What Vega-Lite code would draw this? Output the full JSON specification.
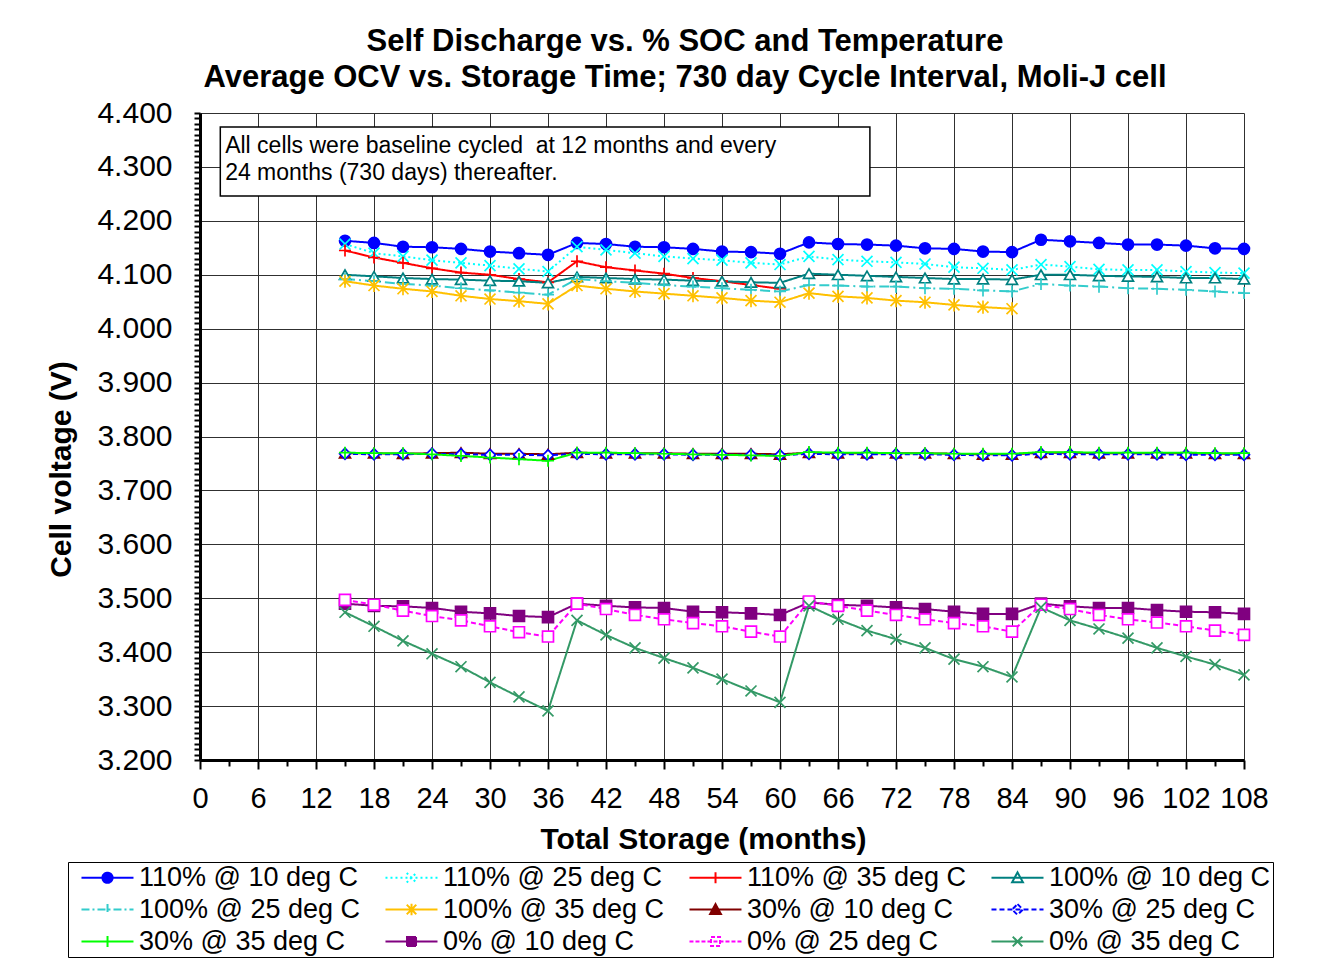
{
"$schema": "https://vega.github.io/schema/vega-lite/v6.json",
"width": 1044, "height": 647,
"autosize": {"type": "none"},
"padding": {"left": 200, "top": 113, "right": 77, "bottom": 204},
"background": "white",
"config": {"font": "Liberation Sans", "view": {"stroke": null}},
"title": {"text": ["Self Discharge vs. % SOC and Temperature", "Average OCV vs. Storage Time; 730 day Cycle Interval, Moli-J cell"], "fontSize": 31, "fontWeight": "bold", "font": "Liberation Sans", "color": "black", "anchor": "middle", "dx": -37, "dy": 49, "lineHeight": 36, "offset": 22, "baseline": "bottom"},
"data": {"values": [
{"s":"110% @ 10 deg C","m":15,"v":4.163},{"s":"110% @ 10 deg C","m":18,"v":4.159},{"s":"110% @ 10 deg C","m":21,"v":4.152},{"s":"110% @ 10 deg C","m":24,"v":4.151},{"s":"110% @ 10 deg C","m":27,"v":4.148},{"s":"110% @ 10 deg C","m":30,"v":4.143},{"s":"110% @ 10 deg C","m":33,"v":4.140},{"s":"110% @ 10 deg C","m":36,"v":4.137},{"s":"110% @ 10 deg C","m":39,"v":4.159},{"s":"110% @ 10 deg C","m":42,"v":4.157},{"s":"110% @ 10 deg C","m":45,"v":4.152},{"s":"110% @ 10 deg C","m":48,"v":4.151},{"s":"110% @ 10 deg C","m":51,"v":4.148},{"s":"110% @ 10 deg C","m":54,"v":4.143},{"s":"110% @ 10 deg C","m":57,"v":4.142},{"s":"110% @ 10 deg C","m":60,"v":4.139},{"s":"110% @ 10 deg C","m":63,"v":4.160},{"s":"110% @ 10 deg C","m":66,"v":4.157},{"s":"110% @ 10 deg C","m":69,"v":4.156},{"s":"110% @ 10 deg C","m":72,"v":4.154},{"s":"110% @ 10 deg C","m":75,"v":4.149},{"s":"110% @ 10 deg C","m":78,"v":4.148},{"s":"110% @ 10 deg C","m":81,"v":4.143},{"s":"110% @ 10 deg C","m":84,"v":4.142},{"s":"110% @ 10 deg C","m":87,"v":4.165},{"s":"110% @ 10 deg C","m":90,"v":4.162},{"s":"110% @ 10 deg C","m":93,"v":4.159},{"s":"110% @ 10 deg C","m":96,"v":4.156},{"s":"110% @ 10 deg C","m":99,"v":4.156},{"s":"110% @ 10 deg C","m":102,"v":4.154},{"s":"110% @ 10 deg C","m":105,"v":4.149},{"s":"110% @ 10 deg C","m":108,"v":4.148},
{"s":"110% @ 25 deg C","m":15,"v":4.157},{"s":"110% @ 25 deg C","m":18,"v":4.140},{"s":"110% @ 25 deg C","m":21,"v":4.134},{"s":"110% @ 25 deg C","m":24,"v":4.127},{"s":"110% @ 25 deg C","m":27,"v":4.122},{"s":"110% @ 25 deg C","m":30,"v":4.117},{"s":"110% @ 25 deg C","m":33,"v":4.111},{"s":"110% @ 25 deg C","m":36,"v":4.106},{"s":"110% @ 25 deg C","m":39,"v":4.152},{"s":"110% @ 25 deg C","m":42,"v":4.146},{"s":"110% @ 25 deg C","m":45,"v":4.140},{"s":"110% @ 25 deg C","m":48,"v":4.134},{"s":"110% @ 25 deg C","m":51,"v":4.130},{"s":"110% @ 25 deg C","m":54,"v":4.127},{"s":"110% @ 25 deg C","m":57,"v":4.122},{"s":"110% @ 25 deg C","m":60,"v":4.119},{"s":"110% @ 25 deg C","m":63,"v":4.134},{"s":"110% @ 25 deg C","m":66,"v":4.128},{"s":"110% @ 25 deg C","m":69,"v":4.125},{"s":"110% @ 25 deg C","m":72,"v":4.123},{"s":"110% @ 25 deg C","m":75,"v":4.120},{"s":"110% @ 25 deg C","m":78,"v":4.114},{"s":"110% @ 25 deg C","m":81,"v":4.112},{"s":"110% @ 25 deg C","m":84,"v":4.109},{"s":"110% @ 25 deg C","m":87,"v":4.119},{"s":"110% @ 25 deg C","m":90,"v":4.115},{"s":"110% @ 25 deg C","m":93,"v":4.110},{"s":"110% @ 25 deg C","m":96,"v":4.109},{"s":"110% @ 25 deg C","m":99,"v":4.109},{"s":"110% @ 25 deg C","m":102,"v":4.106},{"s":"110% @ 25 deg C","m":105,"v":4.104},{"s":"110% @ 25 deg C","m":108,"v":4.103},
{"s":"110% @ 35 deg C","m":15,"v":4.145},{"s":"110% @ 35 deg C","m":18,"v":4.132},{"s":"110% @ 35 deg C","m":21,"v":4.122},{"s":"110% @ 35 deg C","m":24,"v":4.112},{"s":"110% @ 35 deg C","m":27,"v":4.104},{"s":"110% @ 35 deg C","m":30,"v":4.100},{"s":"110% @ 35 deg C","m":33,"v":4.092},{"s":"110% @ 35 deg C","m":36,"v":4.086},{"s":"110% @ 35 deg C","m":39,"v":4.125},{"s":"110% @ 35 deg C","m":42,"v":4.114},{"s":"110% @ 35 deg C","m":45,"v":4.108},{"s":"110% @ 35 deg C","m":48,"v":4.102},{"s":"110% @ 35 deg C","m":51,"v":4.094},{"s":"110% @ 35 deg C","m":54,"v":4.088},{"s":"110% @ 35 deg C","m":57,"v":4.081},{"s":"110% @ 35 deg C","m":60,"v":4.074},
{"s":"100% @ 10 deg C","m":15,"v":4.100},{"s":"100% @ 10 deg C","m":18,"v":4.097},{"s":"100% @ 10 deg C","m":21,"v":4.094},{"s":"100% @ 10 deg C","m":24,"v":4.092},{"s":"100% @ 10 deg C","m":27,"v":4.091},{"s":"100% @ 10 deg C","m":30,"v":4.089},{"s":"100% @ 10 deg C","m":33,"v":4.088},{"s":"100% @ 10 deg C","m":36,"v":4.085},{"s":"100% @ 10 deg C","m":39,"v":4.096},{"s":"100% @ 10 deg C","m":42,"v":4.094},{"s":"100% @ 10 deg C","m":45,"v":4.092},{"s":"100% @ 10 deg C","m":48,"v":4.091},{"s":"100% @ 10 deg C","m":51,"v":4.089},{"s":"100% @ 10 deg C","m":54,"v":4.088},{"s":"100% @ 10 deg C","m":57,"v":4.086},{"s":"100% @ 10 deg C","m":60,"v":4.085},{"s":"100% @ 10 deg C","m":63,"v":4.102},{"s":"100% @ 10 deg C","m":66,"v":4.100},{"s":"100% @ 10 deg C","m":69,"v":4.098},{"s":"100% @ 10 deg C","m":72,"v":4.096},{"s":"100% @ 10 deg C","m":75,"v":4.094},{"s":"100% @ 10 deg C","m":78,"v":4.092},{"s":"100% @ 10 deg C","m":81,"v":4.092},{"s":"100% @ 10 deg C","m":84,"v":4.091},{"s":"100% @ 10 deg C","m":87,"v":4.100},{"s":"100% @ 10 deg C","m":90,"v":4.100},{"s":"100% @ 10 deg C","m":93,"v":4.098},{"s":"100% @ 10 deg C","m":96,"v":4.097},{"s":"100% @ 10 deg C","m":99,"v":4.096},{"s":"100% @ 10 deg C","m":102,"v":4.094},{"s":"100% @ 10 deg C","m":105,"v":4.094},{"s":"100% @ 10 deg C","m":108,"v":4.092},
{"s":"100% @ 25 deg C","m":15,"v":4.092},{"s":"100% @ 25 deg C","m":18,"v":4.088},{"s":"100% @ 25 deg C","m":21,"v":4.083},{"s":"100% @ 25 deg C","m":24,"v":4.080},{"s":"100% @ 25 deg C","m":27,"v":4.075},{"s":"100% @ 25 deg C","m":30,"v":4.071},{"s":"100% @ 25 deg C","m":33,"v":4.067},{"s":"100% @ 25 deg C","m":36,"v":4.063},{"s":"100% @ 25 deg C","m":39,"v":4.092},{"s":"100% @ 25 deg C","m":42,"v":4.088},{"s":"100% @ 25 deg C","m":45,"v":4.085},{"s":"100% @ 25 deg C","m":48,"v":4.081},{"s":"100% @ 25 deg C","m":51,"v":4.078},{"s":"100% @ 25 deg C","m":54,"v":4.075},{"s":"100% @ 25 deg C","m":57,"v":4.072},{"s":"100% @ 25 deg C","m":60,"v":4.069},{"s":"100% @ 25 deg C","m":63,"v":4.081},{"s":"100% @ 25 deg C","m":66,"v":4.080},{"s":"100% @ 25 deg C","m":69,"v":4.078},{"s":"100% @ 25 deg C","m":72,"v":4.078},{"s":"100% @ 25 deg C","m":75,"v":4.075},{"s":"100% @ 25 deg C","m":78,"v":4.074},{"s":"100% @ 25 deg C","m":81,"v":4.071},{"s":"100% @ 25 deg C","m":84,"v":4.069},{"s":"100% @ 25 deg C","m":87,"v":4.083},{"s":"100% @ 25 deg C","m":90,"v":4.080},{"s":"100% @ 25 deg C","m":93,"v":4.078},{"s":"100% @ 25 deg C","m":96,"v":4.075},{"s":"100% @ 25 deg C","m":99,"v":4.074},{"s":"100% @ 25 deg C","m":102,"v":4.072},{"s":"100% @ 25 deg C","m":105,"v":4.069},{"s":"100% @ 25 deg C","m":108,"v":4.066},
{"s":"100% @ 35 deg C","m":15,"v":4.088},{"s":"100% @ 35 deg C","m":18,"v":4.080},{"s":"100% @ 35 deg C","m":21,"v":4.074},{"s":"100% @ 35 deg C","m":24,"v":4.069},{"s":"100% @ 35 deg C","m":27,"v":4.061},{"s":"100% @ 35 deg C","m":30,"v":4.055},{"s":"100% @ 35 deg C","m":33,"v":4.051},{"s":"100% @ 35 deg C","m":36,"v":4.046},{"s":"100% @ 35 deg C","m":39,"v":4.080},{"s":"100% @ 35 deg C","m":42,"v":4.074},{"s":"100% @ 35 deg C","m":45,"v":4.069},{"s":"100% @ 35 deg C","m":48,"v":4.065},{"s":"100% @ 35 deg C","m":51,"v":4.061},{"s":"100% @ 35 deg C","m":54,"v":4.057},{"s":"100% @ 35 deg C","m":57,"v":4.052},{"s":"100% @ 35 deg C","m":60,"v":4.049},{"s":"100% @ 35 deg C","m":63,"v":4.066},{"s":"100% @ 35 deg C","m":66,"v":4.060},{"s":"100% @ 35 deg C","m":69,"v":4.057},{"s":"100% @ 35 deg C","m":72,"v":4.052},{"s":"100% @ 35 deg C","m":75,"v":4.049},{"s":"100% @ 35 deg C","m":78,"v":4.044},{"s":"100% @ 35 deg C","m":81,"v":4.040},{"s":"100% @ 35 deg C","m":84,"v":4.037},
{"s":"30% @ 10 deg C","m":15,"v":3.769},{"s":"30% @ 10 deg C","m":18,"v":3.769},{"s":"30% @ 10 deg C","m":21,"v":3.768},{"s":"30% @ 10 deg C","m":24,"v":3.769},{"s":"30% @ 10 deg C","m":27,"v":3.770},{"s":"30% @ 10 deg C","m":30,"v":3.768},{"s":"30% @ 10 deg C","m":33,"v":3.768},{"s":"30% @ 10 deg C","m":36,"v":3.767},{"s":"30% @ 10 deg C","m":39,"v":3.770},{"s":"30% @ 10 deg C","m":42,"v":3.769},{"s":"30% @ 10 deg C","m":45,"v":3.769},{"s":"30% @ 10 deg C","m":48,"v":3.769},{"s":"30% @ 10 deg C","m":51,"v":3.768},{"s":"30% @ 10 deg C","m":54,"v":3.768},{"s":"30% @ 10 deg C","m":57,"v":3.768},{"s":"30% @ 10 deg C","m":60,"v":3.767},{"s":"30% @ 10 deg C","m":63,"v":3.770},{"s":"30% @ 10 deg C","m":66,"v":3.769},{"s":"30% @ 10 deg C","m":69,"v":3.769},{"s":"30% @ 10 deg C","m":72,"v":3.769},{"s":"30% @ 10 deg C","m":75,"v":3.769},{"s":"30% @ 10 deg C","m":78,"v":3.768},{"s":"30% @ 10 deg C","m":81,"v":3.767},{"s":"30% @ 10 deg C","m":84,"v":3.767},{"s":"30% @ 10 deg C","m":87,"v":3.770},{"s":"30% @ 10 deg C","m":90,"v":3.770},{"s":"30% @ 10 deg C","m":93,"v":3.769},{"s":"30% @ 10 deg C","m":96,"v":3.769},{"s":"30% @ 10 deg C","m":99,"v":3.769},{"s":"30% @ 10 deg C","m":102,"v":3.769},{"s":"30% @ 10 deg C","m":105,"v":3.768},{"s":"30% @ 10 deg C","m":108,"v":3.768},
{"s":"30% @ 25 deg C","m":15,"v":3.768},{"s":"30% @ 25 deg C","m":18,"v":3.767},{"s":"30% @ 25 deg C","m":21,"v":3.767},{"s":"30% @ 25 deg C","m":24,"v":3.768},{"s":"30% @ 25 deg C","m":27,"v":3.767},{"s":"30% @ 25 deg C","m":30,"v":3.766},{"s":"30% @ 25 deg C","m":33,"v":3.766},{"s":"30% @ 25 deg C","m":36,"v":3.765},{"s":"30% @ 25 deg C","m":39,"v":3.768},{"s":"30% @ 25 deg C","m":42,"v":3.767},{"s":"30% @ 25 deg C","m":45,"v":3.767},{"s":"30% @ 25 deg C","m":48,"v":3.767},{"s":"30% @ 25 deg C","m":51,"v":3.766},{"s":"30% @ 25 deg C","m":54,"v":3.766},{"s":"30% @ 25 deg C","m":57,"v":3.766},{"s":"30% @ 25 deg C","m":60,"v":3.765},{"s":"30% @ 25 deg C","m":63,"v":3.768},{"s":"30% @ 25 deg C","m":66,"v":3.767},{"s":"30% @ 25 deg C","m":69,"v":3.767},{"s":"30% @ 25 deg C","m":72,"v":3.767},{"s":"30% @ 25 deg C","m":75,"v":3.767},{"s":"30% @ 25 deg C","m":78,"v":3.766},{"s":"30% @ 25 deg C","m":81,"v":3.765},{"s":"30% @ 25 deg C","m":84,"v":3.765},{"s":"30% @ 25 deg C","m":87,"v":3.768},{"s":"30% @ 25 deg C","m":90,"v":3.767},{"s":"30% @ 25 deg C","m":93,"v":3.767},{"s":"30% @ 25 deg C","m":96,"v":3.767},{"s":"30% @ 25 deg C","m":99,"v":3.767},{"s":"30% @ 25 deg C","m":102,"v":3.766},{"s":"30% @ 25 deg C","m":105,"v":3.766},{"s":"30% @ 25 deg C","m":108,"v":3.766},
{"s":"30% @ 35 deg C","m":15,"v":3.770},{"s":"30% @ 35 deg C","m":18,"v":3.769},{"s":"30% @ 35 deg C","m":21,"v":3.769},{"s":"30% @ 35 deg C","m":24,"v":3.767},{"s":"30% @ 35 deg C","m":27,"v":3.764},{"s":"30% @ 35 deg C","m":30,"v":3.761},{"s":"30% @ 35 deg C","m":33,"v":3.758},{"s":"30% @ 35 deg C","m":36,"v":3.755},{"s":"30% @ 35 deg C","m":39,"v":3.770},{"s":"30% @ 35 deg C","m":42,"v":3.770},{"s":"30% @ 35 deg C","m":45,"v":3.769},{"s":"30% @ 35 deg C","m":48,"v":3.768},{"s":"30% @ 35 deg C","m":51,"v":3.767},{"s":"30% @ 35 deg C","m":54,"v":3.766},{"s":"30% @ 35 deg C","m":57,"v":3.765},{"s":"30% @ 35 deg C","m":60,"v":3.764},{"s":"30% @ 35 deg C","m":63,"v":3.771},{"s":"30% @ 35 deg C","m":66,"v":3.770},{"s":"30% @ 35 deg C","m":69,"v":3.770},{"s":"30% @ 35 deg C","m":72,"v":3.769},{"s":"30% @ 35 deg C","m":75,"v":3.769},{"s":"30% @ 35 deg C","m":78,"v":3.768},{"s":"30% @ 35 deg C","m":81,"v":3.768},{"s":"30% @ 35 deg C","m":84,"v":3.768},{"s":"30% @ 35 deg C","m":87,"v":3.771},{"s":"30% @ 35 deg C","m":90,"v":3.771},{"s":"30% @ 35 deg C","m":93,"v":3.770},{"s":"30% @ 35 deg C","m":96,"v":3.770},{"s":"30% @ 35 deg C","m":99,"v":3.770},{"s":"30% @ 35 deg C","m":102,"v":3.770},{"s":"30% @ 35 deg C","m":105,"v":3.769},{"s":"30% @ 35 deg C","m":108,"v":3.769},
{"s":"0% @ 10 deg C","m":15,"v":3.490},{"s":"0% @ 10 deg C","m":18,"v":3.486},{"s":"0% @ 10 deg C","m":21,"v":3.485},{"s":"0% @ 10 deg C","m":24,"v":3.482},{"s":"0% @ 10 deg C","m":27,"v":3.475},{"s":"0% @ 10 deg C","m":30,"v":3.472},{"s":"0% @ 10 deg C","m":33,"v":3.467},{"s":"0% @ 10 deg C","m":36,"v":3.465},{"s":"0% @ 10 deg C","m":39,"v":3.490},{"s":"0% @ 10 deg C","m":42,"v":3.486},{"s":"0% @ 10 deg C","m":45,"v":3.483},{"s":"0% @ 10 deg C","m":48,"v":3.482},{"s":"0% @ 10 deg C","m":51,"v":3.475},{"s":"0% @ 10 deg C","m":54,"v":3.474},{"s":"0% @ 10 deg C","m":57,"v":3.472},{"s":"0% @ 10 deg C","m":60,"v":3.469},{"s":"0% @ 10 deg C","m":63,"v":3.492},{"s":"0% @ 10 deg C","m":66,"v":3.488},{"s":"0% @ 10 deg C","m":69,"v":3.486},{"s":"0% @ 10 deg C","m":72,"v":3.483},{"s":"0% @ 10 deg C","m":75,"v":3.480},{"s":"0% @ 10 deg C","m":78,"v":3.475},{"s":"0% @ 10 deg C","m":81,"v":3.471},{"s":"0% @ 10 deg C","m":84,"v":3.471},{"s":"0% @ 10 deg C","m":87,"v":3.490},{"s":"0% @ 10 deg C","m":90,"v":3.485},{"s":"0% @ 10 deg C","m":93,"v":3.482},{"s":"0% @ 10 deg C","m":96,"v":3.482},{"s":"0% @ 10 deg C","m":99,"v":3.478},{"s":"0% @ 10 deg C","m":102,"v":3.475},{"s":"0% @ 10 deg C","m":105,"v":3.474},{"s":"0% @ 10 deg C","m":108,"v":3.471},
{"s":"0% @ 25 deg C","m":15,"v":3.497},{"s":"0% @ 25 deg C","m":18,"v":3.488},{"s":"0% @ 25 deg C","m":21,"v":3.477},{"s":"0% @ 25 deg C","m":24,"v":3.467},{"s":"0% @ 25 deg C","m":27,"v":3.459},{"s":"0% @ 25 deg C","m":30,"v":3.448},{"s":"0% @ 25 deg C","m":33,"v":3.437},{"s":"0% @ 25 deg C","m":36,"v":3.429},{"s":"0% @ 25 deg C","m":39,"v":3.490},{"s":"0% @ 25 deg C","m":42,"v":3.480},{"s":"0% @ 25 deg C","m":45,"v":3.469},{"s":"0% @ 25 deg C","m":48,"v":3.461},{"s":"0% @ 25 deg C","m":51,"v":3.454},{"s":"0% @ 25 deg C","m":54,"v":3.448},{"s":"0% @ 25 deg C","m":57,"v":3.438},{"s":"0% @ 25 deg C","m":60,"v":3.429},{"s":"0% @ 25 deg C","m":63,"v":3.494},{"s":"0% @ 25 deg C","m":66,"v":3.486},{"s":"0% @ 25 deg C","m":69,"v":3.477},{"s":"0% @ 25 deg C","m":72,"v":3.469},{"s":"0% @ 25 deg C","m":75,"v":3.461},{"s":"0% @ 25 deg C","m":78,"v":3.454},{"s":"0% @ 25 deg C","m":81,"v":3.448},{"s":"0% @ 25 deg C","m":84,"v":3.438},{"s":"0% @ 25 deg C","m":87,"v":3.488},{"s":"0% @ 25 deg C","m":90,"v":3.480},{"s":"0% @ 25 deg C","m":93,"v":3.469},{"s":"0% @ 25 deg C","m":96,"v":3.461},{"s":"0% @ 25 deg C","m":99,"v":3.455},{"s":"0% @ 25 deg C","m":102,"v":3.448},{"s":"0% @ 25 deg C","m":105,"v":3.440},{"s":"0% @ 25 deg C","m":108,"v":3.432},
{"s":"0% @ 35 deg C","m":15,"v":3.474},{"s":"0% @ 35 deg C","m":18,"v":3.448},{"s":"0% @ 35 deg C","m":21,"v":3.421},{"s":"0% @ 35 deg C","m":24,"v":3.397},{"s":"0% @ 35 deg C","m":27,"v":3.373},{"s":"0% @ 35 deg C","m":30,"v":3.344},{"s":"0% @ 35 deg C","m":33,"v":3.317},{"s":"0% @ 35 deg C","m":36,"v":3.291},{"s":"0% @ 35 deg C","m":39,"v":3.459},{"s":"0% @ 35 deg C","m":42,"v":3.432},{"s":"0% @ 35 deg C","m":45,"v":3.408},{"s":"0% @ 35 deg C","m":48,"v":3.389},{"s":"0% @ 35 deg C","m":51,"v":3.371},{"s":"0% @ 35 deg C","m":54,"v":3.350},{"s":"0% @ 35 deg C","m":57,"v":3.328},{"s":"0% @ 35 deg C","m":60,"v":3.307},{"s":"0% @ 35 deg C","m":63,"v":3.486},{"s":"0% @ 35 deg C","m":66,"v":3.461},{"s":"0% @ 35 deg C","m":69,"v":3.440},{"s":"0% @ 35 deg C","m":72,"v":3.424},{"s":"0% @ 35 deg C","m":75,"v":3.408},{"s":"0% @ 35 deg C","m":78,"v":3.387},{"s":"0% @ 35 deg C","m":81,"v":3.373},{"s":"0% @ 35 deg C","m":84,"v":3.354},{"s":"0% @ 35 deg C","m":87,"v":3.483},{"s":"0% @ 35 deg C","m":90,"v":3.459},{"s":"0% @ 35 deg C","m":93,"v":3.443},{"s":"0% @ 35 deg C","m":96,"v":3.426},{"s":"0% @ 35 deg C","m":99,"v":3.408},{"s":"0% @ 35 deg C","m":102,"v":3.392},{"s":"0% @ 35 deg C","m":105,"v":3.377},{"s":"0% @ 35 deg C","m":108,"v":3.358}
]},
"layer": [
{
"mark": {"type": "line", "strokeWidth": 2},
"encoding": {
"x": {"field": "m", "type": "quantitative", "scale": {"domain": [0, 108], "nice": false, "zero": false},
 "axis": {"title": "Total Storage (months)", "tickCount": 500, "format": "d", "values": [0,3,6,9,12,15,18,21,24,27,30,33,36,39,42,45,48,51,54,57,60,63,66,69,72,75,78,81,84,87,90,93,96,99,102,105,108],
 "labelExpr": "datum.value % 6 == 0 ? datum.label : ''", "labelOverlap": false, "labelFlush": false,
 "grid": true, "gridColor": "#303030", "gridWidth": 1, "gridOpacity": {"condition": {"test": "datum.value % 6 == 0", "value": 1}, "value": 0},
 "tickSize": {"condition": {"test": "datum.value % 6 == 0", "value": 9}, "value": 6}, "tickColor": "black", "tickWidth": 2,
 "domainColor": "black", "domainWidth": 3,
 "labelFont": "Liberation Sans", "labelFontSize": 29, "labelColor": "black", "labelPadding": 15,
 "titleFont": "Liberation Sans", "titleFontSize": 30, "titleFontWeight": "bold", "titleColor": "black", "titleX": 503, "titleY": 88, "titleBaseline": "alphabetic", "titleAlign": "center"}},
"y": {"field": "v", "type": "quantitative", "scale": {"domain": [3.2, 4.4], "nice": false, "zero": false},
 "axis": {"title": "Cell voltage (V)", "tickCount": 500, "values": [3.2,3.21,3.22,3.23,3.24,3.25,3.26,3.27,3.28,3.29,3.3,3.31,3.32,3.33,3.34,3.35,3.36,3.37,3.38,3.39,3.4,3.41,3.42,3.43,3.44,3.45,3.46,3.47,3.48,3.49,3.5,3.51,3.52,3.53,3.54,3.55,3.56,3.57,3.58,3.59,3.6,3.61,3.62,3.63,3.64,3.65,3.66,3.67,3.68,3.69,3.7,3.71,3.72,3.73,3.74,3.75,3.76,3.77,3.78,3.79,3.8,3.81,3.82,3.83,3.84,3.85,3.86,3.87,3.88,3.89,3.9,3.91,3.92,3.93,3.94,3.95,3.96,3.97,3.98,3.99,4.0,4.01,4.02,4.03,4.04,4.05,4.06,4.07,4.08,4.09,4.1,4.11,4.12,4.13,4.14,4.15,4.16,4.17,4.18,4.19,4.2,4.21,4.22,4.23,4.24,4.25,4.26,4.27,4.28,4.29,4.3,4.31,4.32,4.33,4.34,4.35,4.36,4.37,4.38,4.39,4.4],
 "format": ".3f", "labelExpr": "slice(datum.label, -2) == '00' ? datum.label : ''", "labelOverlap": false, "labelFlush": false,
 "grid": true, "gridColor": "#303030", "gridWidth": 1, "gridOpacity": {"condition": {"test": "slice(format(datum.value, '.3f'), -2) == '00'", "value": 1}, "value": 0},
 "tickSize": 6, "tickColor": "black", "tickWidth": 2, "domainColor": "black", "domainWidth": 3,
 "labelFont": "Liberation Sans", "labelFontSize": 30, "labelColor": "black", "labelPadding": 22,
 "titleFont": "Liberation Sans", "titleFontSize": 30, "titleFontWeight": "bold", "titleColor": "black", "titleX": -130, "titleY": 356, "titleBaseline": "alphabetic", "titleAlign": "center", "titleAngle": -90}},
"stroke": {"field": "s", "type": "nominal", "legend": null, "scale": {"domain": ["110% @ 10 deg C","110% @ 25 deg C","110% @ 35 deg C","100% @ 10 deg C","100% @ 25 deg C","100% @ 35 deg C","30% @ 10 deg C","30% @ 25 deg C","30% @ 35 deg C","0% @ 10 deg C","0% @ 25 deg C","0% @ 35 deg C"], "range": ["#0000FF","#00FFFF","#FF0000","#008080","#33CCCC","#FFC000","#800000","#0000FF","#00FF00","#800080","#FF00FF","#339966"]}},
"strokeDash": {"field": "s", "type": "nominal", "legend": null, "scale": {"domain": ["110% @ 10 deg C","110% @ 25 deg C","110% @ 35 deg C","100% @ 10 deg C","100% @ 25 deg C","100% @ 35 deg C","30% @ 10 deg C","30% @ 25 deg C","30% @ 35 deg C","0% @ 10 deg C","0% @ 25 deg C","0% @ 35 deg C"], "range": [[1,0],[2,3],[1,0],[1,0],[10,4,2,4],[1,0],[1,0],[5,3],[1,0],[1,0],[5,3],[1,0]]}}
}
},
{
"mark": {"type": "point", "size": 120, "strokeWidth": 1.7, "opacity": 1},
"encoding": {
"x": {"field": "m", "type": "quantitative"},
"y": {"field": "v", "type": "quantitative"},
"stroke": {"field": "s", "type": "nominal", "legend": null, "scale": {"domain": ["110% @ 10 deg C","110% @ 25 deg C","110% @ 35 deg C","100% @ 10 deg C","100% @ 25 deg C","100% @ 35 deg C","30% @ 10 deg C","30% @ 25 deg C","30% @ 35 deg C","0% @ 10 deg C","0% @ 25 deg C","0% @ 35 deg C"], "range": ["#0000FF","#00FFFF","#FF0000","#008080","#33CCCC","#FFC000","#800000","#0000FF","#00FF00","#800080","#FF00FF","#339966"]}},
"fill": {"field": "s", "type": "nominal", "legend": null, "scale": {"domain": ["110% @ 10 deg C","110% @ 25 deg C","110% @ 35 deg C","100% @ 10 deg C","100% @ 25 deg C","100% @ 35 deg C","30% @ 10 deg C","30% @ 25 deg C","30% @ 35 deg C","0% @ 10 deg C","0% @ 25 deg C","0% @ 35 deg C"], "range": ["#0000FF","transparent","transparent","white","transparent","transparent","#800000","white","transparent","#800080","white","transparent"]}},
"shape": {"field": "s", "type": "nominal", "legend": null, "scale": {"domain": ["110% @ 10 deg C","110% @ 25 deg C","110% @ 35 deg C","100% @ 10 deg C","100% @ 25 deg C","100% @ 35 deg C","30% @ 10 deg C","30% @ 25 deg C","30% @ 35 deg C","0% @ 10 deg C","0% @ 25 deg C","0% @ 35 deg C"], "range": ["circle","M-1,-1L1,1M-1,1L1,-1","M-1.1,0H1.1M0,-1.1V1.1","triangle-up","M-1.1,0H1.1M0,-1.1V1.1","M-1,-1L1,1M-1,1L1,-1M0,-1.2V1.2","triangle-up","diamond","M-1.1,0H1.1M0,-1.1V1.1","square","square","M-1,-1L1,1M-1,1L1,-1"]}}
}
},
{
"data": {"values": [{}]},
"mark": {"type": "rect", "fill": "white", "stroke": "black", "strokeWidth": 1.5},
"encoding": {
"x": {"datum": 2.1, "type": "quantitative"}, "x2": {"datum": 69.3},
"y": {"datum": 4.374, "type": "quantitative"}, "y2": {"datum": 4.246}
}
},
{
"data": {"values": [{}]},
"mark": {"type": "text", "text": ["All cells were baseline cycled\u00a0 at 12 months and every", "24 months (730 days) thereafter."], "align": "left", "baseline": "alphabetic", "font": "Liberation Sans", "fontSize": 23, "lineHeight": 27, "color": "black"},
"encoding": {
"x": {"datum": 2.6, "type": "quantitative"},
"y": {"datum": 4.326, "type": "quantitative"}
}
},
{
"data": {"values": []},
"mark": {"type": "point", "size": 144, "strokeWidth": 2, "opacity": 1},
"encoding": {
"stroke": {"field": "s", "type": "nominal", "scale": {"domain": ["110% @ 10 deg C","110% @ 25 deg C","110% @ 35 deg C","100% @ 10 deg C","100% @ 25 deg C","100% @ 35 deg C","30% @ 10 deg C","30% @ 25 deg C","30% @ 35 deg C","0% @ 10 deg C","0% @ 25 deg C","0% @ 35 deg C"], "range": ["#0000FF","#00FFFF","#FF0000","#008080","#33CCCC","#FFC000","#800000","#0000FF","#00FF00","#800080","#FF00FF","#339966"]},
 "legend": {"title": null, "orient": "none", "direction": "horizontal", "legendX": -132, "legendY": 749, "columns": 4, "labelFont": "Liberation Sans", "labelFontSize": 27, "labelColor": "black", "labelLimit": 400, "symbolSize": 144, "symbolStrokeWidth": 2, "symbolOffset": 44, "labelOffset": -2, "columnPadding": 13, "rowPadding": 4, "padding": 2, "strokeColor": "black", "fillColor": "white"}},
"fill": {"field": "s", "type": "nominal", "scale": {"domain": ["110% @ 10 deg C","110% @ 25 deg C","110% @ 35 deg C","100% @ 10 deg C","100% @ 25 deg C","100% @ 35 deg C","30% @ 10 deg C","30% @ 25 deg C","30% @ 35 deg C","0% @ 10 deg C","0% @ 25 deg C","0% @ 35 deg C"], "range": ["#0000FF","transparent","transparent","white","transparent","transparent","#800000","white","transparent","#800080","white","transparent"]},
 "legend": {"title": null, "orient": "none", "direction": "horizontal", "legendX": -132, "legendY": 749, "columns": 4, "labelFont": "Liberation Sans", "labelFontSize": 27, "labelColor": "black", "labelLimit": 400, "symbolSize": 144, "symbolStrokeWidth": 2, "symbolOffset": 44, "labelOffset": -2, "columnPadding": 13, "rowPadding": 4, "padding": 2, "strokeColor": "black", "fillColor": "white"}},
"shape": {"field": "s", "type": "nominal", "scale": {"domain": ["110% @ 10 deg C","110% @ 25 deg C","110% @ 35 deg C","100% @ 10 deg C","100% @ 25 deg C","100% @ 35 deg C","30% @ 10 deg C","30% @ 25 deg C","30% @ 35 deg C","0% @ 10 deg C","0% @ 25 deg C","0% @ 35 deg C"], "range": [
 "M-7.67,0H1M-4.18,0A0.85,0.85 0 1,0 -2.48,0A0.85,0.85 0 1,0 -4.18,0Z",
 "M-7.67,0H1M-4.13,-0.8L-2.53,0.8M-4.13,0.8L-2.53,-0.8",
 "M-7.67,0H1M-3.33,-0.9V0.9",
 "M-7.67,0H1M-3.33,-0.9L-2.43,0.75L-4.23,0.75Z",
 "M-7.67,0H1M-3.33,-0.9V0.9",
 "M-7.67,0H1M-4.13,-0.8L-2.53,0.8M-4.13,0.8L-2.53,-0.8M-3.33,-0.95V0.95",
 "M-7.67,0H1M-3.33,-0.9L-2.43,0.75L-4.23,0.75Z",
 "M-7.67,0H1M-3.33,-0.9L-2.43,0L-3.33,0.9L-4.23,0Z",
 "M-7.67,0H1M-3.33,-0.9V0.9",
 "M-7.67,0H1M-4.08,-0.75H-2.58V0.75H-4.08Z",
 "M-7.67,0H1M-4.08,-0.75H-2.58V0.75H-4.08Z",
 "M-7.67,0H1M-4.13,-0.8L-2.53,0.8M-4.13,0.8L-2.53,-0.8"]},
 "legend": {"title": null, "orient": "none", "direction": "horizontal", "legendX": -132, "legendY": 749, "columns": 4, "labelFont": "Liberation Sans", "labelFontSize": 27, "labelColor": "black", "labelLimit": 400, "symbolSize": 144, "symbolStrokeWidth": 2, "symbolOffset": 44, "labelOffset": -2, "columnPadding": 13, "rowPadding": 4, "padding": 2, "strokeColor": "black", "fillColor": "white"}},
"strokeDash": {"field": "s", "type": "nominal", "scale": {"domain": ["110% @ 10 deg C","110% @ 25 deg C","110% @ 35 deg C","100% @ 10 deg C","100% @ 25 deg C","100% @ 35 deg C","30% @ 10 deg C","30% @ 25 deg C","30% @ 35 deg C","0% @ 10 deg C","0% @ 25 deg C","0% @ 35 deg C"], "range": [[1,0],[2,3],[1,0],[1,0],[8,3,2,3],[1,0],[1,0],[5,3],[1,0],[1,0],[4,2],[1,0]]},
 "legend": {"title": null, "orient": "none", "direction": "horizontal", "legendX": -132, "legendY": 749, "columns": 4, "labelFont": "Liberation Sans", "labelFontSize": 27, "labelColor": "black", "labelLimit": 400, "symbolSize": 144, "symbolStrokeWidth": 2, "symbolOffset": 44, "labelOffset": -2, "columnPadding": 13, "rowPadding": 4, "padding": 2, "strokeColor": "black", "fillColor": "white"}}
}
}
],
"resolve": {"scale": {"stroke": "independent", "fill": "independent", "shape": "independent", "strokeDash": "independent"}}
}
